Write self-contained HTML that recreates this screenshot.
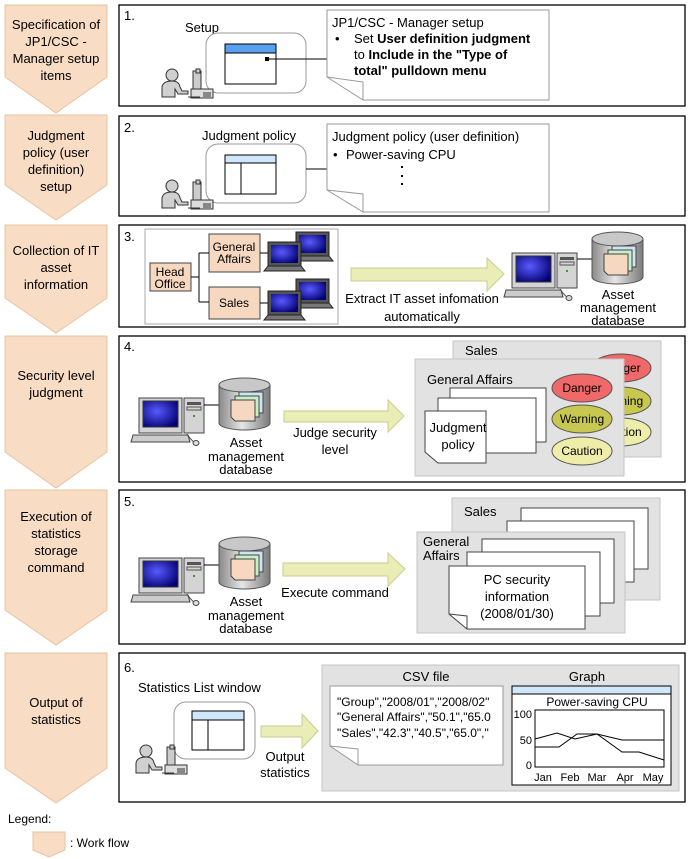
<!DOCTYPE html>
<html><head><meta charset="utf-8"><style>
html,body{margin:0;padding:0;background:#fff;}
svg{display:block;font-family:"Liberation Sans",Arial,sans-serif;}
</style></head><body>
<svg width="688" height="859" viewBox="0 0 688 859" xmlns="http://www.w3.org/2000/svg">
<defs>
<radialGradient id="scr" cx="0.4" cy="0.4" r="0.7"><stop offset="0" stop-color="#5a5aff"/><stop offset="1" stop-color="#000070"/></radialGradient>
<linearGradient id="cyl" x1="0" x2="1" y1="0" y2="0"><stop offset="0" stop-color="#8a8a8a"/><stop offset="0.45" stop-color="#e6e6e6"/><stop offset="1" stop-color="#7a7a7a"/></linearGradient>
<g id="pc">
 <rect x="0" y="0" width="43" height="35" fill="#d4d4d4" stroke="#444"/>
 <rect x="4" y="3" width="35" height="26" fill="url(#scr)" stroke="#333"/>
 <rect x="45" y="0" width="20" height="35" fill="#d4d4d4" stroke="#444"/>
 <rect x="48" y="4" width="14" height="3" fill="#555"/>
 <rect x="48" y="9" width="14" height="3" fill="none" stroke="#555"/>
 <rect x="54" y="17" width="2" height="2" fill="#2a2"/>
 <path d="M-6,37 H49 L51,44 H-8 Z" fill="#ccc" stroke="#444"/>
 <path d="M48,36 Q52,42 55,44" fill="none" stroke="#444"/>
 <ellipse cx="57" cy="45" rx="3" ry="2.5" fill="#ddd" stroke="#444"/>
</g>
<g id="db">
 <path d="M0,7 V45 A25.5,7 0 0 0 51,45 V7" fill="url(#cyl)" stroke="#555"/>
 <ellipse cx="25.5" cy="7" rx="25.5" ry="7" fill="#c8c8c8" stroke="#555"/>
 <rect x="20" y="14" width="24" height="21" fill="#cce4f4" stroke="#444"/>
 <rect x="16" y="18" width="24" height="21" fill="#c8f0c8" stroke="#444"/>
 <path d="M12,22 H36 V43 H16 L12,39 Z" fill="#f6d8c0" stroke="#444"/>
</g>
<g id="person">
 <circle cx="12" cy="6" r="6" fill="#d0d0d0" stroke="#333"/>
 <path d="M2,28 V18 Q3,12 12,12 Q19,12 20,18 L22,22 H28 V25 H18 L15,20 V28 Z" fill="#d0d0d0" stroke="#333"/>
 <rect x="33" y="2" width="8" height="18" fill="#ccc" stroke="#333"/>
 <rect x="36" y="0" width="4" height="4" fill="#ccc" stroke="#333"/>
 <rect x="31" y="20" width="22" height="9" fill="#ddd" stroke="#333"/>
 <path d="M28,28 H40" stroke="#333"/>
 <path d="M44,23 V28 M46,23 V28 M48,23 V28 M50,23 V28" stroke="#333"/>
</g>
<g id="lap">
 <rect x="0" y="0" width="33" height="24" fill="#555" stroke="#222"/>
 <rect x="3" y="3" width="27" height="18" fill="url(#scr)"/>
 <path d="M0,24 H33 L37,29 H-4 Z" fill="#777" stroke="#222"/>
</g>
</defs>

<g fill="#f9dcc4" stroke="#e6c4a2" stroke-width="1">
<path d="M5,5 H107 V77 L56,113 L5,77 Z"/>
<path d="M5,115 H107 V185 L56,220 L5,185 Z"/>
<path d="M5,225 H107 V298 L56,333 L5,298 Z"/>
<path d="M5,336 H107 V452 L56,488 L5,452 Z"/>
<path d="M5,490 H107 V610 L56,645 L5,610 Z"/>
<path d="M5,653 H107 V768 L56,803 L5,768 Z"/>
<path d="M33,832 H65 V850 L49,857 L33,850 Z"/>
</g>
<g font-size="13" text-anchor="middle" fill="#000">
<text x="56" y="29">Specification of</text><text x="56" y="46">JP1/CSC -</text><text x="56" y="63">Manager setup</text><text x="56" y="80">items</text>
<text x="56" y="140">Judgment</text><text x="56" y="157">policy (user</text><text x="56" y="174">definition)</text><text x="56" y="191">setup</text>
<text x="56" y="255">Collection of IT</text><text x="56" y="272">asset</text><text x="56" y="289">information</text>
<text x="56" y="380">Security level</text><text x="56" y="397">judgment</text>
<text x="56" y="521">Execution of</text><text x="56" y="538">statistics</text><text x="56" y="555">storage</text><text x="56" y="572">command</text>
<text x="56" y="707">Output of</text><text x="56" y="724">statistics</text>
</g>
<text x="8" y="823" font-size="12">Legend:</text>
<text x="70" y="847" font-size="12">: Work flow</text>

<g fill="#fff" stroke="#000" stroke-width="1.3">
<rect x="119" y="5" width="566" height="101"/>
<rect x="119" y="116" width="566" height="100"/>
<rect x="119" y="225" width="566" height="102"/>
<rect x="119" y="336" width="566" height="146"/>
<rect x="119" y="490" width="566" height="154"/>
<rect x="119" y="653" width="566" height="149"/>
</g>
<g font-size="13">
<text x="124" y="20">1.</text><text x="124" y="132">2.</text><text x="124" y="241">3.</text><text x="124" y="351">4.</text><text x="124" y="506">5.</text><text x="124" y="672">6.</text>
</g>

<!-- Panel 1 -->
<text x="185" y="32" font-size="13">Setup</text>
<rect x="206" y="33" width="100" height="60" rx="12" fill="#fff" stroke="#999"/>
<rect x="225" y="44" width="51" height="40" fill="#fff" stroke="#000"/>
<rect x="225" y="44" width="51" height="9" fill="#5aa0f0" stroke="#000"/>
<rect x="265" y="57" width="4" height="4" fill="#000"/>
<line x1="267" y1="59" x2="327" y2="59" stroke="#000"/>
<path d="M327,10 H549 V100 H363 L327,77 Z" fill="#fff" stroke="#999"/>
<path d="M327,77 L363,82 L363,100" fill="none" stroke="#999"/>
<use href="#person" x="160" y="69"/>
<g font-size="13">
<text x="332" y="27">JP1/CSC - Manager setup</text>
<text x="335" y="43">•</text>
<text x="354" y="43">Set <tspan font-weight="bold">User definition judgment</tspan></text>
<text x="354" y="59">to <tspan font-weight="bold">Include in the "Type of</tspan></text>
<text x="354" y="75" font-weight="bold">total" pulldown menu</text>
</g>

<!-- Panel 2 -->
<text x="202" y="140" font-size="13">Judgment policy</text>
<rect x="206" y="144" width="100" height="59" rx="12" fill="#fff" stroke="#999"/>
<rect x="225" y="155" width="51" height="39" fill="#fff" stroke="#000"/>
<rect x="225" y="155" width="51" height="8" fill="#cfe6fb" stroke="#000"/>
<line x1="241" y1="163" x2="241" y2="194" stroke="#000"/>
<line x1="306" y1="169" x2="327" y2="169" stroke="#000"/>
<path d="M327,124 H549 V212 H363 L327,190 Z" fill="#fff" stroke="#999"/>
<path d="M327,190 L363,194 L363,212" fill="none" stroke="#999"/>
<use href="#person" x="160" y="180"/>
<g font-size="13">
<text x="332" y="141">Judgment policy (user definition)</text>
<text x="333" y="159">•</text><text x="346" y="159">Power-saving CPU</text>
</g>
<g fill="#000"><rect x="401" y="166" width="2" height="2"/><rect x="401" y="175" width="2" height="2"/><rect x="401" y="183" width="2" height="2"/></g>

<!-- Panel 3 -->
<rect x="145" y="229" width="193" height="95" fill="#fff" stroke="#aaa"/>
<g fill="#f6d8c0" stroke="#444">
<rect x="150" y="263" width="41" height="28"/>
<rect x="209" y="234" width="51" height="38"/>
<rect x="209" y="287" width="51" height="32"/>
</g>
<path d="M191,277 H199 M199,253 V302 M199,253 H209 M199,302 H209 M260,253 H268 M260,303 H268" stroke="#000" fill="none"/>
<g font-size="12" text-anchor="middle">
<text x="170" y="276">Head</text><text x="170" y="288">Office</text>
<text x="234" y="251">General</text><text x="234" y="263">Affairs</text>
<text x="234" y="307">Sales</text>
</g>
<use href="#lap" x="296" y="232"/><use href="#lap" x="268" y="242"/>
<use href="#lap" x="296" y="279"/><use href="#lap" x="268" y="291"/>
<path d="M351,268 H487 V258 L504,274 L487,291 V281 H351 Z" fill="#eaedb5" stroke="#c9cd8f"/>
<g font-size="13" text-anchor="middle">
<text x="422" y="303">Extract IT asset infomation</text>
<text x="422" y="321">automatically</text>
</g>
<use href="#pc" x="512" y="253"/>
<line x1="577" y1="259" x2="592" y2="259" stroke="#000"/>
<use href="#db" x="592" y="232"/>
<g font-size="13" text-anchor="middle">
<text x="618" y="299">Asset</text><text x="618" y="312">management</text><text x="618" y="325">database</text>
</g>

<!-- Panel 4 -->
<use href="#pc" x="139" y="398"/>
<line x1="204" y1="405" x2="219" y2="405" stroke="#000"/>
<use href="#db" x="219" y="378"/>
<g font-size="13" text-anchor="middle">
<text x="246" y="447">Asset</text><text x="246" y="461">management</text><text x="246" y="474">database</text>
<text x="335" y="437">Judge security</text><text x="335" y="454">level</text>
</g>
<path d="M284,411 H388 V400 L404,416 L388,432 V422 H284 Z" fill="#eaedb5" stroke="#c9cd8f"/>
<rect x="453" y="341" width="208" height="116" fill="#e2e2e2" stroke="#c4c4c4"/>
<text x="465" y="355" font-size="13">Sales</text>
<g font-size="12" text-anchor="middle">
<ellipse cx="621" cy="368" rx="30" ry="14" fill="#f06868" stroke="#555"/><text x="621" y="372">Danger</text>
<ellipse cx="621" cy="401" rx="30" ry="14" fill="#c8c850" stroke="#555"/><text x="621" y="405">Warning</text>
<ellipse cx="621" cy="432" rx="30" ry="14" fill="#eeeeaa" stroke="#555"/><text x="621" y="436">Caution</text>
</g>
<rect x="415" y="359" width="209" height="117" fill="#e2e2e2" stroke="#c4c4c4"/>
<text x="427" y="384" font-size="13">General Affairs</text>
<rect x="450" y="388" width="96" height="54" fill="#fff" stroke="#444"/>
<rect x="438" y="398" width="98" height="55" fill="#fff" stroke="#444"/>
<path d="M425,411 H486 V463 H438 L425,452 Z" fill="#fff" stroke="#444"/>
<g font-size="13" text-anchor="middle"><text x="458" y="432">Judgment</text><text x="458" y="449">policy</text></g>
<g font-size="12" text-anchor="middle">
<ellipse cx="582" cy="388" rx="30" ry="14" fill="#f06868" stroke="#555"/><text x="582" y="392">Danger</text>
<ellipse cx="582" cy="419" rx="30" ry="14" fill="#c8c850" stroke="#555"/><text x="582" y="423">Warning</text>
<ellipse cx="582" cy="451" rx="30" ry="14" fill="#eeeeaa" stroke="#555"/><text x="582" y="455">Caution</text>
</g>

<!-- Panel 5 -->
<use href="#pc" x="139" y="558"/>
<line x1="204" y1="565" x2="219" y2="565" stroke="#000"/>
<use href="#db" x="219" y="537"/>
<g font-size="13" text-anchor="middle">
<text x="246" y="606">Asset</text><text x="246" y="620">management</text><text x="246" y="633">database</text>
<text x="335" y="597">Execute command</text>
</g>
<path d="M283,563 H388 V553 L405,569 L388,586 V576 H283 Z" fill="#eaedb5" stroke="#c9cd8f"/>
<rect x="452" y="498" width="208" height="102" fill="#e2e2e2" stroke="#c4c4c4"/>
<text x="464" y="516" font-size="13">Sales</text>
<rect x="521" y="508" width="127" height="61" fill="#fff" stroke="#444"/>
<rect x="507" y="521" width="127" height="61" fill="#fff" stroke="#444"/>
<rect x="417" y="532" width="208" height="101" fill="#e2e2e2" stroke="#c4c4c4"/>
<text x="423" y="546" font-size="13">General</text><text x="423" y="560" font-size="13">Affairs</text>
<rect x="482" y="539" width="132" height="64" fill="#fff" stroke="#444"/>
<rect x="467" y="552" width="133" height="64" fill="#fff" stroke="#444"/>
<path d="M449,566 H585 V629 H467 L449,614 Z" fill="#fff" stroke="#444"/>
<path d="M449,614 L467,616 V629" fill="none" stroke="#444"/>
<g font-size="13" text-anchor="middle"><text x="517" y="584">PC security</text><text x="517" y="601">information</text><text x="517" y="618">(2008/01/30)</text></g>

<!-- Panel 6 -->
<text x="138" y="692" font-size="13">Statistics List window</text>
<rect x="174" y="702" width="81" height="57" rx="12" fill="#fff" stroke="#999"/>
<rect x="192" y="711" width="52" height="39" fill="#fff" stroke="#000"/>
<rect x="192" y="711" width="52" height="9" fill="#cfe6fb" stroke="#000"/>
<line x1="208" y1="720" x2="208" y2="750" stroke="#000"/>
<use href="#person" x="134" y="745"/>
<path d="M261,726 H302 V714 L318,731 L302,748 V737 H261 Z" fill="#eaedb5" stroke="#c9cd8f"/>
<g font-size="13" text-anchor="middle"><text x="285" y="761">Output</text><text x="285" y="777">statistics</text></g>
<rect x="322" y="665" width="357" height="126" fill="#e2e2e2" stroke="#c4c4c4"/>
<g font-size="13" text-anchor="middle"><text x="426" y="681">CSV file</text><text x="587" y="681">Graph</text></g>
<path d="M330,686 H503 V765 H358 L330,746 Z" fill="#fff" stroke="#999"/>
<path d="M330,746 L358,749 V765" fill="none" stroke="#999"/>
<g font-size="12">
<text x="337" y="706">"Group","2008/01","2008/02"</text>
<text x="337" y="721">"General Affairs","50.1","65.0</text>
<text x="337" y="737">"Sales","42.3","40.5","65.0","</text>
</g>
<rect x="512" y="686" width="159" height="99" fill="#fff" stroke="#000"/>
<rect x="512" y="686" width="159" height="8" fill="#cfe6fb" stroke="#000"/>
<text x="597" y="706" font-size="12" text-anchor="middle">Power-saving CPU</text>
<rect x="535" y="710" width="129" height="57" fill="#fff" stroke="#000"/>
<polyline points="535,739 557,733 575,739 597,734 622,740 664,740" fill="none" stroke="#000"/>
<polyline points="535,747 559,747 577,734 597,734 622,752 639,752 664,760" fill="none" stroke="#000"/>
<g font-size="11" text-anchor="end"><text x="532" y="718">100</text><text x="532" y="744">50</text><text x="532" y="769">0</text></g>
<g font-size="11" text-anchor="middle"><text x="543" y="781">Jan</text><text x="570" y="781">Feb</text><text x="597" y="781">Mar</text><text x="625" y="781">Apr</text><text x="653" y="781">May</text></g>
</svg>
</body></html>
